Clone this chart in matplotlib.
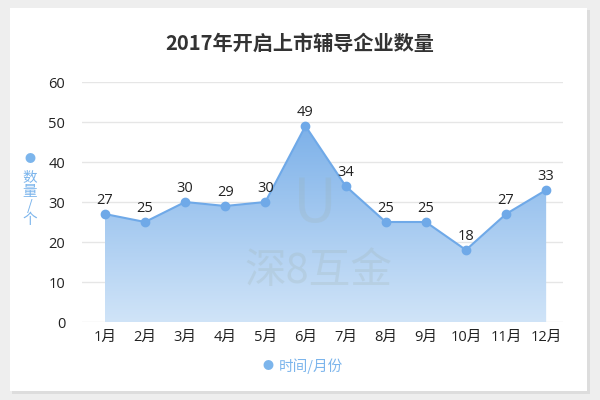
import matplotlib
matplotlib.use("Agg")
import matplotlib.pyplot as plt
import numpy as np
from matplotlib.patches import Rectangle, Polygon
from matplotlib.colors import LinearSegmentedColormap

plt.rcParams['font.family'] = ['Open Sans', 'Noto Sans CJK SC', 'DejaVu Sans']

title = "2017年开启上市辅导企业数量"
months = ["1月", "2月", "3月", "4月", "5月", "6月", "7月", "8月", "9月", "10月", "11月", "12月"]
values = [27, 25, 30, 29, 30, 49, 34, 25, 25, 18, 27, 33]
yticks = [0, 10, 20, 30, 40, 50, 60]
ylabel = "数\n量\n/\n个"
xlabel = "时间/月份"
watermark = "深8互金"

cjk = ['Noto Sans CJK SC', 'DejaVu Sans']
line_color = "#7cb5ec"
fig = plt.figure(figsize=(6, 4), dpi=100)
fig.patch.set_facecolor("#eeeeee")
# shadow + white panel
fig.patches.append(Rectangle((12/600, 1-394/400), 578/600, 384/400, transform=fig.transFigure,
                             facecolor="#dddddd", edgecolor="none", zorder=-2))
fig.patches.append(Rectangle((10/600, 1-391/400), 577/600, 383/400, transform=fig.transFigure,
                             facecolor="white", edgecolor="none", zorder=-1))

ax = fig.add_axes([82/600, 1-322/400, 481/600, 240/400])
ax.set_zorder(1)
ax.set_facecolor("none")
x = np.arange(len(months))

# gradient area
cmap = LinearSegmentedColormap.from_list("g", ["#d0e4f8", "#7db1e9"])
top = max(values)
grad = np.linspace(0, 1, 256).reshape(-1, 1)
im = ax.imshow(grad, extent=[x[0], x[-1], 0, top], origin="lower", aspect="auto",
               cmap=cmap, zorder=1)
poly = Polygon(np.column_stack([np.r_[x[0], x, x[-1]], np.r_[0, values, 0]]),
               closed=True, facecolor="none", edgecolor="none", transform=ax.transData)
ax.add_patch(poly)
im.set_clip_path(poly)
ax.set_xlim(-0.57, 11.42)
ax.set_ylim(0, 60)

ax.plot(x, values, color="#6fa9e8", lw=1.5, marker="o", markersize=6, zorder=3)
for xi, v in zip(x, values):
    ax.annotate(str(v), (xi, v), xytext=(0, 4), textcoords="offset points",
                ha="center", va="bottom", fontsize=10.5, color="#222222", zorder=4)

ax.set_yticks(yticks)
ax.set_xticks(x)
ax.set_xticklabels(months)
ax.grid(axis="y", color="#e6e6e6", lw=1, zorder=0)
ax.set_axisbelow(True)
for s in ax.spines.values():
    s.set_visible(False)
ax.tick_params(length=0, labelsize=10.5, colors="#222222")
ax.tick_params(axis="y", pad=12)
ax.tick_params(axis="x", pad=6)

# watermark
fig.text(318/600, 1-272/400, watermark, ha="center", va="center", fontsize=30,
         color="#9aaa9f", alpha=0.2, family=cjk, zorder=5)
fig.text(315/600, 1-205/400, "U", ha="center", va="center", fontsize=44,
         color="#9aaa9f", alpha=0.18, family=cjk, zorder=5)

fig.text(0.5, 1-43/400, title, ha="center", va="center", fontsize=14.5,
         fontweight="bold", color="#333333", family=cjk)

# y label with dot
fig.text(30/600, 1-159/400, "●", ha="center", va="center", fontsize=8, color=line_color, family=cjk)
fig.text(30/600, 1-199/400, ylabel, ha="center", va="center", fontsize=10.5,
         color=line_color, linespacing=1.0, family=cjk)
# x label with dot
fig.text(268/600, 1-366/400, "●", ha="center", va="center", fontsize=8, color=line_color, family=cjk)
fig.text(279/600, 1-366/400, xlabel, ha="left", va="center", fontsize=10.5, color=line_color,
         family=cjk)

fig.savefig("out.png", dpi=100)
